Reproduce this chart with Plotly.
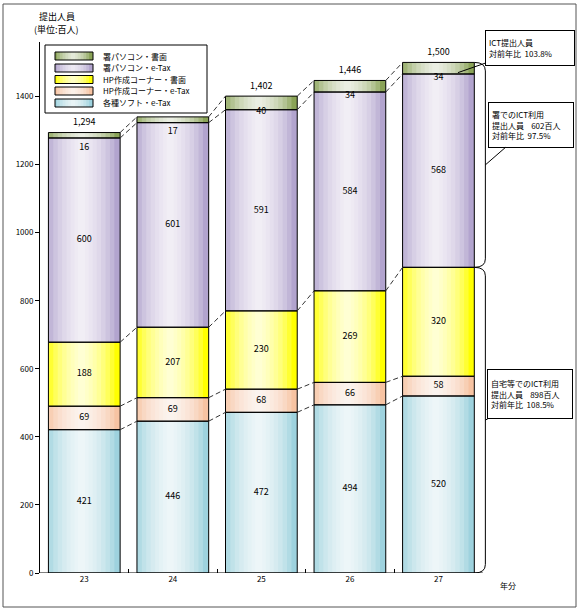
import plotly.graph_objects as go

# ---------------- data ----------------
years = ["23", "24", "25", "26", "27"]
series_names = ["各種ソフト・e-Tax", "HP作成コーナー・e-Tax", "HP作成コーナー・書面",
                "署パソコン・e-Tax", "署パソコン・書面"]
soft_etax = [421, 446, 472, 494, 520]
hp_etax = [69, 69, 68, 66, 58]
hp_paper = [188, 207, 230, 269, 320]
office_etax = [600, 601, 591, 584, 568]
office_paper = [16, 17, 40, 34, 34]
total_labels = ["1,294", "", "1,402", "1,446", "1,500"]
y_ticks = [0, 200, 400, 600, 800, 1000, 1200, 1400]
callout_total = "ICT提出人員<br>対前年比\u00a0\u00a0103.8%"
callout_office = "署でのICT利用<br>提出人員\u00a0\u00a0\u00a0\u00a0602百人<br>対前年比\u00a0\u00a097.5%"
callout_home = "自宅等でのICT利用<br>提出人員\u00a0\u00a0\u00a0\u00a0898百人<br>対前年比\u00a0\u00a0108.5%"

series = [soft_etax, hp_etax, hp_paper, office_etax, office_paper]
colors = ["#9ed2de", "#f7c3a2", "#ffff00", "#b2a4ce", "#8aa357"]

# ---------------- layout constants ----------------
FONT = "Noto Sans CJK JP"
W_FIG, H_FIG = 580, 612
L, R, T, B = 40, 84, 42, 39
PW = W_FIG - L - R
PH = H_FIG - T - B
YMAX = 1560
XR = [-0.5, 4.65]
BW = 0.81


def px(xp):
    return (xp - L) / PW


def py(yp):
    return (H_FIG - B - yp) / PH


x = list(range(len(years)))
bases = []
acc = [0] * len(years)
for s in series:
    bases.append(acc[:])
    acc = [a + v for a, v in zip(acc, s)]
totals = acc

fig = go.Figure()

# fills + highlight layers (gradient imitation)
layers = [0.74, 0.64, 0.54, 0.44, 0.34, 0.25, 0.16, 0.08]
shift = -0.03
for k, s in enumerate(series):
    fig.add_trace(go.Bar(x=x, y=s, base=bases[k], width=BW, offset=-BW / 2,
                         marker=dict(color=colors[k], line=dict(width=0)),
                         showlegend=False, hoverinfo="skip"))
    for w in layers:
        fig.add_trace(go.Bar(x=x, y=s, base=bases[k], width=w, offset=-w / 2 + shift,
                             marker=dict(color="white", opacity=0.2, line=dict(width=0)),
                             showlegend=False, hoverinfo="skip"))
# outlines
for k, s in enumerate(series):
    fig.add_trace(go.Bar(x=x, y=s, base=bases[k], width=BW, offset=-BW / 2,
                         marker=dict(color="rgba(0,0,0,0)", line=dict(color="black", width=1)),
                         name=series_names[k], showlegend=False,
                         hovertemplate=series_names[k] + ": %{y}<extra></extra>"))

# dashed connectors between bars
for k in range(len(series)):
    top = [b + v for b, v in zip(bases[k], series[k])]
    cx, cy = [], []
    for i in range(len(years) - 1):
        cx += [x[i] + BW / 2, x[i + 1] - BW / 2, None]
        cy += [top[i], top[i + 1], None]
    fig.add_trace(go.Scatter(x=cx, y=cy, mode="lines",
                             line=dict(color="#333333", width=1, dash="5px,3px"),
                             showlegend=False, hoverinfo="skip"))

# value labels
lx, ly, lt = [], [], []
for k, s in enumerate(series):
    for i, v in enumerate(s):
        lx.append(x[i])
        if k == len(series) - 1:
            ly.append(totals[i] - 45)
        else:
            ly.append(bases[k][i] + v / 2)
        lt.append(str(v))
fig.add_trace(go.Scatter(x=lx, y=ly, text=lt, mode="text",
                         textfont=dict(family=FONT, size=9, color="black"),
                         showlegend=False, hoverinfo="skip", cliponaxis=False))
fig.add_trace(go.Scatter(x=x, y=[t + 28 for t in totals], text=total_labels, mode="text",
                         textfont=dict(family=FONT, size=9, color="black"),
                         showlegend=False, hoverinfo="skip", cliponaxis=False))

shapes = []
# x-axis line
shapes.append(dict(type="line", xref="x", yref="y", x0=-0.5, x1=4.5, y0=0, y1=0,
                   line=dict(color="black", width=1)))
# brackets on last bar
split = totals[-1] - series[3][-1] - series[4][-1]
xb0, xb1, d = x[-1] + BW / 2, x[-1] + 0.53, 25
for top, bot in [(totals[-1], split), (split, 0)]:
    path = (f"M {xb0},{top} Q {xb1},{top} {xb1},{top - d} "
            f"L {xb1},{bot + d} Q {xb1},{bot} {xb0},{bot}")
    shapes.append(dict(type="path", xref="x", yref="y", path=path,
                       line=dict(color="black", width=1)))

# manual legend
shapes.append(dict(type="rect", xref="paper", yref="paper", x0=px(45), x1=px(207),
                   y0=py(113), y1=py(45), line=dict(color="black", width=1),
                   fillcolor="white", layer="above"))
rows = [56, 68, 79.5, 91, 103]
legend_order = list(range(len(series)))[::-1]
annotations = []
for r, k in zip(rows, legend_order):
    sx0, sx1 = 55, 93
    shapes.append(dict(type="rect", xref="paper", yref="paper", x0=px(sx0), x1=px(sx1),
                       y0=py(r + 4), y1=py(r - 4), fillcolor=colors[k],
                       line=dict(width=0), layer="above"))
    for w in [0.85, 0.7, 0.55, 0.4, 0.25, 0.12]:
        c = (sx0 + sx1) / 2 - 1
        hw = (sx1 - sx0) * w / 2
        shapes.append(dict(type="rect", xref="paper", yref="paper", x0=px(c - hw), x1=px(c + hw),
                           y0=py(r + 4), y1=py(r - 4), fillcolor="white", opacity=0.22,
                           line=dict(width=0), layer="above"))
    shapes.append(dict(type="rect", xref="paper", yref="paper", x0=px(sx0), x1=px(sx1),
                       y0=py(r + 4), y1=py(r - 4), line=dict(color="black", width=1),
                       layer="above"))
    annotations.append(dict(xref="paper", yref="paper", x=px(101), y=py(r), text=series_names[k],
                            showarrow=False, xanchor="left", yanchor="middle",
                            font=dict(family=FONT, size=8, color="black")))

# outer border
shapes.append(dict(type="rect", xref="paper", yref="paper", x0=px(3), x1=px(576),
                   y0=py(607), y1=py(4), line=dict(color="#555555", width=1)))

# titles
annotations.append(dict(xref="paper", yref="paper", x=px(37), y=py(17), text="提出人員",
                        showarrow=False, xanchor="left", yanchor="middle",
                        font=dict(family=FONT, size=9, color="black")))
annotations.append(dict(xref="paper", yref="paper", x=px(32), y=py(30), text="(単位:百人)",
                        showarrow=False, xanchor="left", yanchor="middle",
                        font=dict(family=FONT, size=9, color="black")))
annotations.append(dict(xref="paper", yref="paper", x=px(498), y=py(585), text="年分",
                        showarrow=False, xanchor="left", yanchor="middle",
                        font=dict(family=FONT, size=8, color="black")))

# callouts
common = dict(showarrow=True, arrowhead=0, arrowwidth=1, arrowcolor="black",
              bordercolor="black", borderwidth=1, bgcolor="white", borderpad=3,
              align="left", font=dict(family=FONT, size=8, color="black"))
annotations.append(dict(xref="x", yref="y", x=4.22, y=totals[-1] - 30, ax=72, ay=-25,
                        text=callout_total, width=82, height=28, **common))
annotations.append(dict(xref="x", yref="y", x=xb1, y=(totals[-1] + split) / 2, ax=46, ay=-40,
                        text=callout_office, width=78, height=38, **common))
annotations.append(dict(xref="x", yref="y", x=xb1, y=split / 2, ax=45, ay=-26,
                        text=callout_home, width=78, height=42, **common))

fig.update_layout(
    width=W_FIG, height=H_FIG,
    margin=dict(l=L, r=R, t=T, b=B, autoexpand=False),
    barmode="overlay",
    plot_bgcolor="white", paper_bgcolor="white",
    showlegend=False,
    shapes=shapes, annotations=annotations,
    font=dict(family=FONT, size=8, color="black"),
    xaxis=dict(range=XR, tickvals=x, ticktext=years, ticks="", showline=False,
               showgrid=False, zeroline=False, automargin=False,
               tickfont=dict(family=FONT, size=8, color="black"),
               minor=dict(tickvals=[0.5, 1.5, 2.5, 3.5], ticks="inside", ticklen=4,
                          tickcolor="black", showgrid=False)),
    yaxis=dict(range=[0, YMAX], tickvals=y_ticks, ticks="outside", ticklen=4,
               tickcolor="black", showline=True, linecolor="black", linewidth=1,
               showgrid=False, zeroline=False, automargin=False,
               tickfont=dict(family=FONT, size=8, color="black")),
)

fig.write_html("out.html", config={"displayModeBar": False},
               post_script="document.body.style.margin='0';")
